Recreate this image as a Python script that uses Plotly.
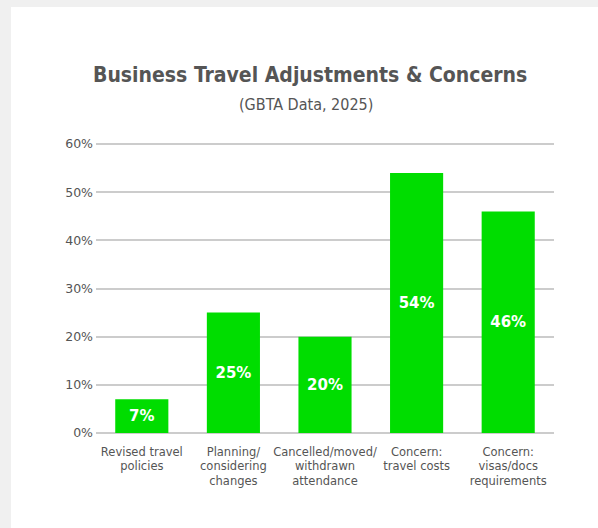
import plotly.graph_objects as go

categories = [
    "Revised travel<br>policies",
    "Planning/<br>considering<br>changes",
    "Cancelled/moved/<br>withdrawn<br>attendance",
    "Concern:<br>travel costs",
    "Concern:<br>visas/docs<br>requirements",
]
values = [7, 25, 20, 54, 46]
labels = [f"{v}%" for v in values]
y_ticks = [0, 10, 20, 30, 40, 50, 60]
y_tick_text = [f"{t}%" for t in y_ticks]

W, H = 598, 528
L, R, T, B = 96, 44, 142, 95
pw, ph = W - L - R, H - T - B
y_top = ph / ((H - B - 144) / 60)  # keep 60% line just inside the plot

def px_x(p):
    return (p - L) / pw

def px_y(p):
    return (H - B - p) / ph

fig = go.Figure(
    go.Bar(
        x=categories,
        y=values,
        text=labels,
        textposition="inside",
        insidetextanchor="middle",
        textfont=dict(family="DejaVu Sans", size=15, color="white", weight="bold"),
        marker=dict(color="#00dd00", line=dict(width=0)),
        width=0.58,
        hoverinfo="skip",
    )
)

# white card on grey page
fig.add_shape(
    type="rect", xref="paper", yref="paper", layer="below",
    x0=px_x(11), x1=px_x(W + 10), y0=px_y(H + 10), y1=px_y(7),
    fillcolor="white", line=dict(width=0),
)

fig.add_annotation(
    text="<b>Business Travel Adjustments &amp; Concerns</b>",
    xref="paper", yref="paper", x=px_x(310), y=px_y(75),
    showarrow=False, xanchor="center", yanchor="middle",
    font=dict(family="DejaVu Sans Condensed", size=21, color="#555555"),
)
fig.add_annotation(
    text="(GBTA Data, 2025)",
    xref="paper", yref="paper", x=px_x(306), y=px_y(104),
    showarrow=False, xanchor="center", yanchor="middle",
    font=dict(family="DejaVu Sans Condensed", size=16, color="#555555"),
)

fig.update_layout(
    width=W, height=H,
    margin=dict(l=L, r=R, t=T, b=B, autoexpand=False),
    paper_bgcolor="#f0f0f0",
    plot_bgcolor="rgba(0,0,0,0)",
    showlegend=False,
    font=dict(family="DejaVu Sans", color="#555555"),
    uniformtext=dict(minsize=8, mode="show"),
)
fig.update_yaxes(
    range=[0, y_top], tickmode="array", tickvals=y_ticks, ticktext=y_tick_text,
    showgrid=True, gridcolor="#cccccc", gridwidth=1.5,
    zeroline=True, zerolinecolor="#cccccc", zerolinewidth=1.5,
    showline=False, ticks="", ticklabelstandoff=2,
    tickfont=dict(size=12.5, color="#555555"),
    fixedrange=True,
)
fig.update_xaxes(
    showgrid=False, showline=False, ticks="",
    tickfont=dict(size=11.5, color="#555555"),
    tickangle=0, ticklabelstandoff=10, fixedrange=True,
)

fig.write_html("out.html")
